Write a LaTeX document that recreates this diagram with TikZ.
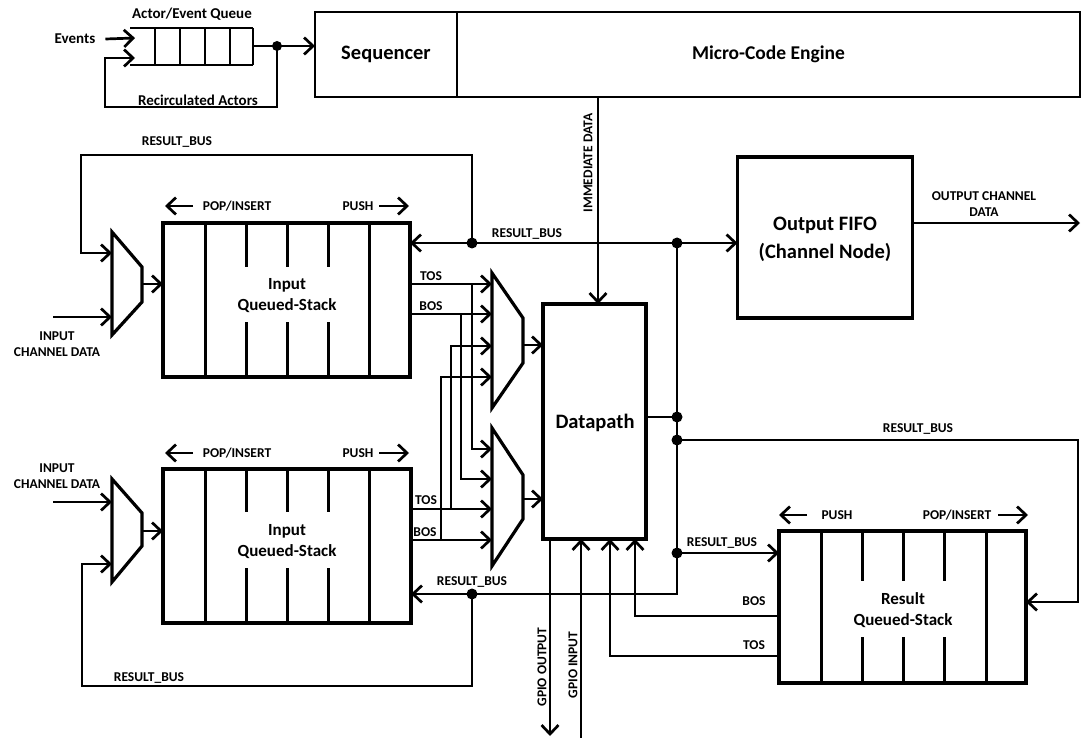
\documentclass[tikz,border=0pt]{standalone}
\usepackage{fontspec}
\setmainfont{Carlito}
\usetikzlibrary{arrows.meta}
\tikzset{
  wire/.style={line width=2.7pt},
  arr/.style={wire,-{Straight Barb[length=9pt,width=17pt]}},
  box/.style={draw,line width=3.2pt,inner sep=0pt,outer sep=0pt},
  seqbox/.style={draw,line width=2.2pt,inner sep=0pt,outer sep=0pt},
  sline/.style={line width=3pt},
  qline/.style={line width=1.8pt},
  lab/.style={font=\bfseries\fontsize{13.5}{16}\selectfont,inner sep=0pt,align=center},
  big/.style={font=\bfseries\fontsize{20.5}{28}\selectfont,inner sep=0pt,align=center},
  mce/.style={font=\bfseries\fontsize{19.5}{24}\selectfont,inner sep=0pt,align=center},
  mid/.style={font=\bfseries\fontsize{17}{21}\selectfont,inner sep=0pt,align=center},
  ttl/.style={font=\bfseries\fontsize{15}{18}\selectfont,inner sep=0pt},
  jdot/.style={circle,fill,inner sep=0pt,minimum size=11pt},
  muxs/.style={line width=3.2pt,line join=miter},
}
\begin{document}
\begin{tikzpicture}[x=1pt,y=-1pt]
\useasboundingbox (0,0) rectangle (1082,738);

% ---------- top: queue, sequencer, micro-code engine ----------
\node[ttl] (qtitle) at (192,14) {Actor/Event Queue};
\draw[qline] (130,28) -- (253,28) (130,65) -- (253,65);
\foreach \x in {155,180,205,230,253} \draw[qline] (\x,28) -- (\x,65);
\coordinate (qout) at (253,46);
\coordinate (qin1) at (135,38);
\coordinate (qin2) at (135,58);
\node[ttl] (events) at (75,39) {Events};
\node[ttl] (recirc) at (198,100) {Recirculated Actors};
\node[seqbox,minimum width=142pt,minimum height=85pt] (seq) at (386,54.5) {};
\node[big] at (seq) {Sequencer};
\node[seqbox,minimum width=623pt,minimum height=85pt] (mce) at (768.5,54.5) {};
\node[mce] at (mce) {Micro-Code Engine};
\node[jdot,minimum size=10pt] (dq) at (277,46) {};
\draw[wire] (qout) -- (dq.center);
\draw[arr] (dq.center) -- (seq.west |- dq);
\draw[arr] (events.east) ++(10,0) -- (qin1);
\draw[arr] (dq.center) -- (277,107) -- (105,107) -- (105,58) -- (qin2);

% ---------- Output FIFO ----------
\node[box,minimum width=175pt,minimum height=161pt] (fifo) at (825,237.5) {};
\node[big] at (825,239) {Output FIFO\\(Channel Node)};
\coordinate (outend) at (1080,223);
\draw[arr] (fifo.east |- outend) -- (outend);
\node[lab] (ocd) at (984,204) {OUTPUT CHANNEL\\DATA};

% ---------- Datapath ----------
\node[box,minimum width=103pt,minimum height=235pt] (dp) at (594.5,421.5) {};
\node[big] at (595,423) {Datapath};
\draw[arr] (598,97) -- (dp.north -| 598,0);
\node[lab,rotate=90] (imm) at (588,163) {IMMEDIATE DATA};

% ---------- input stacks ----------
\node[box,minimum width=247pt,minimum height=154pt] (isA) at (286.5,300) {};
\foreach \x in {205,369} \draw[sline] (\x,223) -- (\x,377);
\foreach \x in {246,287,328} {\draw[sline] (\x,223) -- (\x,267); \draw[sline] (\x,322) -- (\x,377);}
\node[mid] at (287,296) {Input\\Queued-Stack};
\draw[arr] (193,206) -- (165,206);
\node[lab] (popA) at (237,206) {POP/INSERT};
\node[lab] (pushA) at (358,206) {PUSH};
\draw[arr] (379,206) -- (409,206);

\node[box,minimum width=248pt,minimum height=154pt] (isB) at (287,546) {};
\foreach \x in {205,369} \draw[sline] (\x,469) -- (\x,623);
\foreach \x in {246,287,328} {\draw[sline] (\x,469) -- (\x,512); \draw[sline] (\x,568) -- (\x,623);}
\node[mid] at (287,542) {Input\\Queued-Stack};
\draw[arr] (193,453) -- (165,453);
\node[lab] (popB) at (237,453) {POP/INSERT};
\node[lab] (pushB) at (358,453) {PUSH};
\draw[arr] (379,453) -- (409,453);

% ---------- input muxes ----------
\draw[muxs] (112,232) -- (142,267) -- (142,302) -- (112,335) -- cycle;
\coordinate (mA1) at (112,253);
\coordinate (mA2) at (112,317);
\draw[arr] (142,284) -- (isA.west |- 0,284);
\draw[arr] (53,317) -- (mA2);
\node[lab] (icdA) at (57,344) {INPUT\\CHANNEL DATA};

\draw[muxs] (112,479) -- (142,513) -- (142,546) -- (112,582) -- cycle;
\coordinate (mD1) at (112,502);
\coordinate (mD2) at (112,564);
\draw[arr] (142,531) -- (isB.west |- 0,531);
\draw[arr] (53,502) -- (mD1);
\node[lab] (icdB) at (57,476) {INPUT\\CHANNEL DATA};

% ---------- operand muxes ----------
\draw[muxs] (492,273) -- (523,318) -- (523,363) -- (492,408) -- cycle;
\draw[muxs] (492,428) -- (523,475) -- (523,519) -- (492,566) -- cycle;
\draw[arr] (523,345) -- (dp.west |- 0,345);
\draw[arr] (523,499) -- (dp.west |- 0,499);

% TOS/BOS of the upper stack
\draw[arr] (isA.east |- 0,284) -- (492,284);
\draw[arr] (isA.east |- 0,314) -- (492,314);
\draw[arr] (472,284) -- (472,449) -- (492,449);
\draw[arr] (461,314) -- (461,479) -- (492,479);
\node[lab] at (431,276) {TOS};
\node[lab] at (431,306) {BOS};
% TOS/BOS of the lower stack
\draw[arr] (isB.east |- 0,509) -- (492,509);
\draw[arr] (isB.east |- 0,540) -- (492,540);
\draw[arr] (451,509) -- (451,346) -- (492,346);
\draw[arr] (441,540) -- (441,377) -- (492,377);
\node[lab] at (426,500) {TOS};
\node[lab] at (425,532) {BOS};

% ---------- result bus ----------
\node[jdot] (b1) at (677,243) {};
\node[jdot] (b2) at (677,417) {};
\node[jdot] (b3) at (677,440) {};
\node[jdot] (b4) at (677,553) {};
\node[jdot] (tA) at (472,243) {};
\node[jdot] (tB) at (472,594) {};
\draw[wire] (b1.center) -- (677,594) -- (tB.center);
\draw[arr] (b1.center) -- (isA.east |- b1);
\draw[arr] (b1.center) -- (fifo.west |- b1);
\node[lab] at (527,234) {RESULT\_BUS};
\draw[arr] (tB.center) -- (isB.east |- tB);
\node[lab] at (472,582) {RESULT\_BUS};
\draw[arr] (tA.center) -- (472,155) -- (81,155) -- (81,253) -- (mA1);
\node[lab] at (177,142) {RESULT\_BUS};
\draw[arr] (tB.center) -- (472,686) -- (82,686) -- (82,564) -- (mD2);
\node[lab] at (149,678) {RESULT\_BUS};
\draw[wire] (dp.east |- b2) -- (b2.center);

% ---------- result stack ----------
\node[box,minimum width=247pt,minimum height=152pt] (rs) at (902.5,607) {};
\foreach \x in {821,986} \draw[sline] (\x,531) -- (\x,683);
\foreach \x in {862,903,944} {\draw[sline] (\x,531) -- (\x,581); \draw[sline] (\x,637) -- (\x,683);}
\node[mid] at (903,610) {Result\\Queued-Stack};
\draw[arr] (807,515) -- (779,515);
\node[lab] (pushR) at (837,515) {PUSH};
\node[lab] (popR) at (957,515) {POP/INSERT};
\draw[arr] (998,515) -- (1028,515);

\draw[arr] (b3.center) -- (1078,440) -- (1078,602) -- (rs.east |- 0,602);
\node[lab] at (918,429) {RESULT\_BUS};
\draw[arr] (b4.center) -- (rs.west |- b4);
\node[lab] at (722,543) {RESULT\_BUS};

\draw[arr] (rs.west |- 0,616) -- (635,616) -- (dp.south -| 635,0);
\draw[arr] (rs.west |- 0,656) -- (610,656) -- (dp.south -| 610,0);
\node[lab] at (754,601) {BOS};
\node[lab] at (754,645) {TOS};

% ---------- GPIO ----------
\draw[arr] (dp.south -| 550,0) -- (550,736);
\draw[arr] (581,738) -- (dp.south -| 581,0);
\node[lab,rotate=90] at (542,667) {GPIO OUTPUT};
\node[lab,rotate=90] at (573,665) {GPIO INPUT};
\end{tikzpicture}
\end{document}
